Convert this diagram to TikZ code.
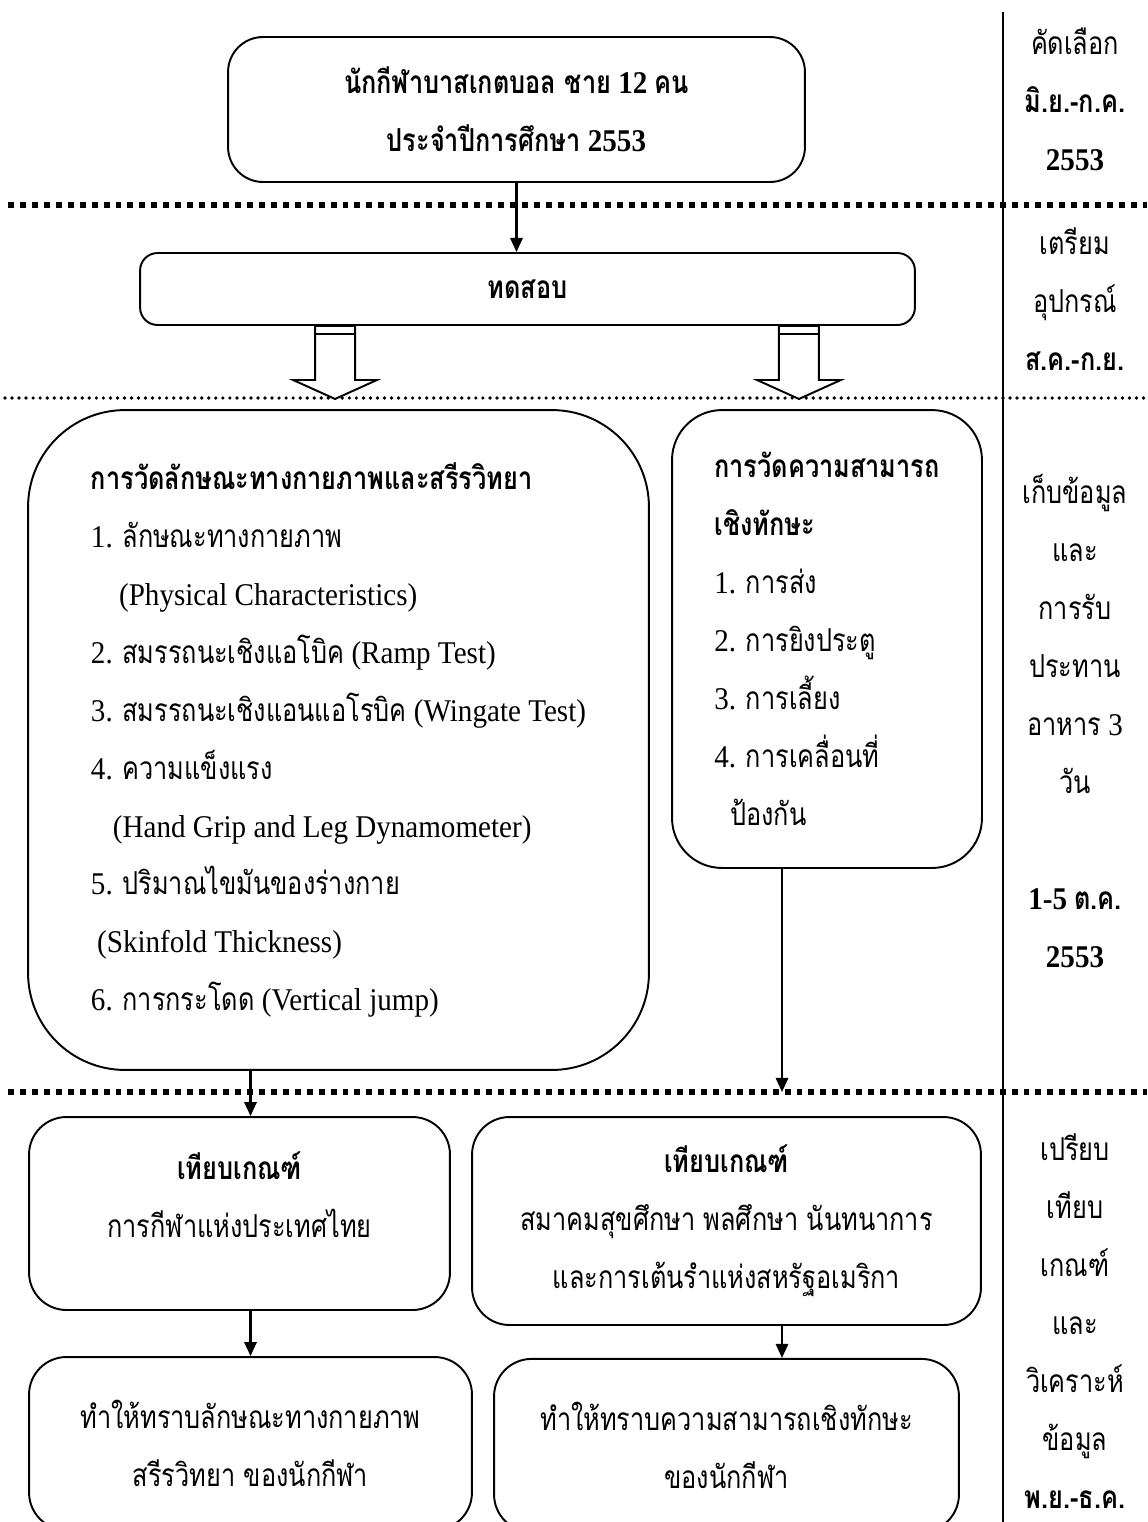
\documentclass[tikz,border=0pt]{standalone}
\usepackage{fontspec}
\setmainfont{Liberation Serif}[FakeStretch=0.92]
\newfontfamily\thaifont[Script=Thai,FakeStretch=0.8]{Loma}
\newcommand{\thtxt}[1]{{\thaifont #1}}
\usetikzlibrary{shapes.geometric, arrows.meta, positioning}

\begin{document}
\begin{tikzpicture}[
    x=0.02cm, y=-0.02cm,
    every node/.style={font=\fontsize{18}{33}\selectfont},
    box/.style={rectangle, draw=black, line width=1.1pt, fill=white, align=center},
    listbox/.style={box, align=left},
    boldbox/.style={box, font=\fontsize{18}{33}\selectfont\bfseries},
    period/.style={align=center},
    arrow/.style={line width=1.3pt, -{Triangle[length=8pt, width=7pt]}},
    hollow/.style={line width=1.1pt, fill=white, line join=miter},
    septhick/.style={line width=3pt, dash pattern=on 3.4pt off 3.4pt},
    septhin/.style={line width=2.1pt, dash pattern=on 0pt off 4pt, line cap=round}
]
\useasboundingbox (0,0) rectangle (1147,1522);

% phase separators
\draw [septhick] (8,205) -- (1147,205);
\draw [septhin] (5,398) -- (1147,398);
\draw [septhick] (8,1092) -- (1147,1092);
\draw [line width=1.1pt] (1003,12) -- (1003,1522);

\node (top) [boldbox, minimum width=11.54cm, minimum height=2.9cm, rounded corners=0.7cm] at (516.5,109.5)
    {\thtxt{นักกีฬาบาสเกตบอล ชาย} 12 \thtxt{คน}\\ \thtxt{ประจำปีการศึกษา} 2553};
\node (test) [boldbox, minimum width=15.5cm, minimum height=1.44cm, rounded corners=0.35cm] at (527.5,289)
    {\thtxt{ทดสอบ}};

\node (phys) [listbox, minimum width=12.42cm, minimum height=13.2cm, rounded corners=1.94cm] at (338.5,740)
    {\textbf{\thtxt{การวัดลักษณะทางกายภาพและสรีรวิทยา}}\\
     1. \thtxt{ลักษณะทางกายภาพ}\\
     \hspace{16pt}(Physical Characteristics)\\
     2. \thtxt{สมรรถนะเชิงแอโบิค} (Ramp Test)\\
     3. \thtxt{สมรรถนะเชิงแอนแอโรบิค} (Wingate Test)\\
     4. \thtxt{ความแข็งแรง}\\
     \hspace{12.5pt}(Hand Grip and Leg Dynamometer)\\
     5. \thtxt{ปริมาณไขมันของร่างกาย}\\
     \hspace{3.5pt}(Skinfold Thickness)\\
     6. \thtxt{การกระโดด} (Vertical jump)};
\node (skill) [listbox, minimum width=6.2cm, minimum height=9.16cm, rounded corners=1cm] at (827,639)
    {\textbf{\thtxt{การวัดความสามารถ}}\\
     \textbf{\thtxt{เชิงทักษะ}}\\
     1. \thtxt{การส่ง}\\
     2. \thtxt{การยิงประตู}\\
     3. \thtxt{การเลี้ยง}\\
     4. \thtxt{การเคลื่อนที่}\\
     \hspace{9pt}\thtxt{ป้องกัน}};

\node (critA) [box, minimum width=8.42cm, minimum height=3.86cm, rounded corners=0.75cm] at (239.5,1213.5)
    {\textbf{\thtxt{เทียบเกณฑ์}}\\ \thtxt{การกีฬาแห่งประเทศไทย}\\[-12pt]\mbox{}};
\node (critB) [box, minimum width=10.18cm, minimum height=4.16cm, rounded corners=0.75cm] at (726.5,1221)
    {\textbf{\thtxt{เทียบเกณฑ์}}\\ \thtxt{สมาคมสุขศึกษา พลศึกษา นันทนาการ}\\ \thtxt{และการเต้นรำแห่งสหรัฐอเมริกา}};
\node (resA) [box, minimum width=8.86cm, minimum height=3.46cm, rounded corners=0.75cm] at (250.5,1443.5)
    {\thtxt{ทำให้ทราบลักษณะทางกายภาพ}\\ \thtxt{สรีรวิทยา ของนักกีฬา}};
\node (resB) [box, minimum width=9.3cm, minimum height=3.46cm, rounded corners=0.75cm, below=0.64cm of critB]
    {\thtxt{ทำให้ทราบความสามารถเชิงทักษะ}\\ \thtxt{ของนักกีฬา}};

% time column
\node (colA) [period] at (1075,99) {\thtxt{คัดเลือก}\\ \textbf{\thtxt{มิ.ย.-ก.ค.}}\\ \textbf{2553}};
\node (colB) [period] at (1075,299) {\thtxt{เตรียม}\\ \thtxt{อุปกรณ์}\\ \textbf{\thtxt{ส.ค.-ก.ย.}}};
\node (colC) [period] at (1075,721) {\thtxt{เก็บข้อมูล}\\ \thtxt{และ}\\ \thtxt{การรับ}\\ \thtxt{ประทาน}\\ \thtxt{อาหาร} 3\\ \thtxt{วัน}\\[33pt] \textbf{1-5 \thtxt{ต.ค.}}\\ \textbf{2553}};
\node (colD) [period] at (1075,1321) {\thtxt{เปรียบ}\\ \thtxt{เทียบ}\\ \thtxt{เกณฑ์}\\ \thtxt{และ}\\ \thtxt{วิเคราะห์}\\ \thtxt{ข้อมูล}\\ \textbf{\thtxt{พ.ย.-ธ.ค.}}};

% block arrows under the test box
\coordinate (hA) at ([xshift=-4.25cm]test.south);
\coordinate (hB) at ([xshift=5.03cm]test.south);
\foreach \h in {hA, hB} {
    \draw [hollow] (\h) -- ++(0,54) -- ++(-22,0) -- ++(42,19) -- ++(42,-19) -- ++(-22,0) -- ++(0,-54) -- cycle;
    \draw [line width=1pt] ([yshift=-0.16cm]\h) -- ++(40,0);
}

\coordinate (skillEnd) at (782,1092);

\draw [arrow] (top) -- (top |- test.north);
\draw [arrow] (phys.south -| resA) -- (critA.north -| resA);
\draw [arrow] (skill.south -| skillEnd) -- (skillEnd);
\draw [arrow] (critA.south -| resA) -- (resA.north);
\draw [arrow] (critB.south -| skillEnd) -- (resB.north -| skillEnd);

\end{tikzpicture}
\end{document}
